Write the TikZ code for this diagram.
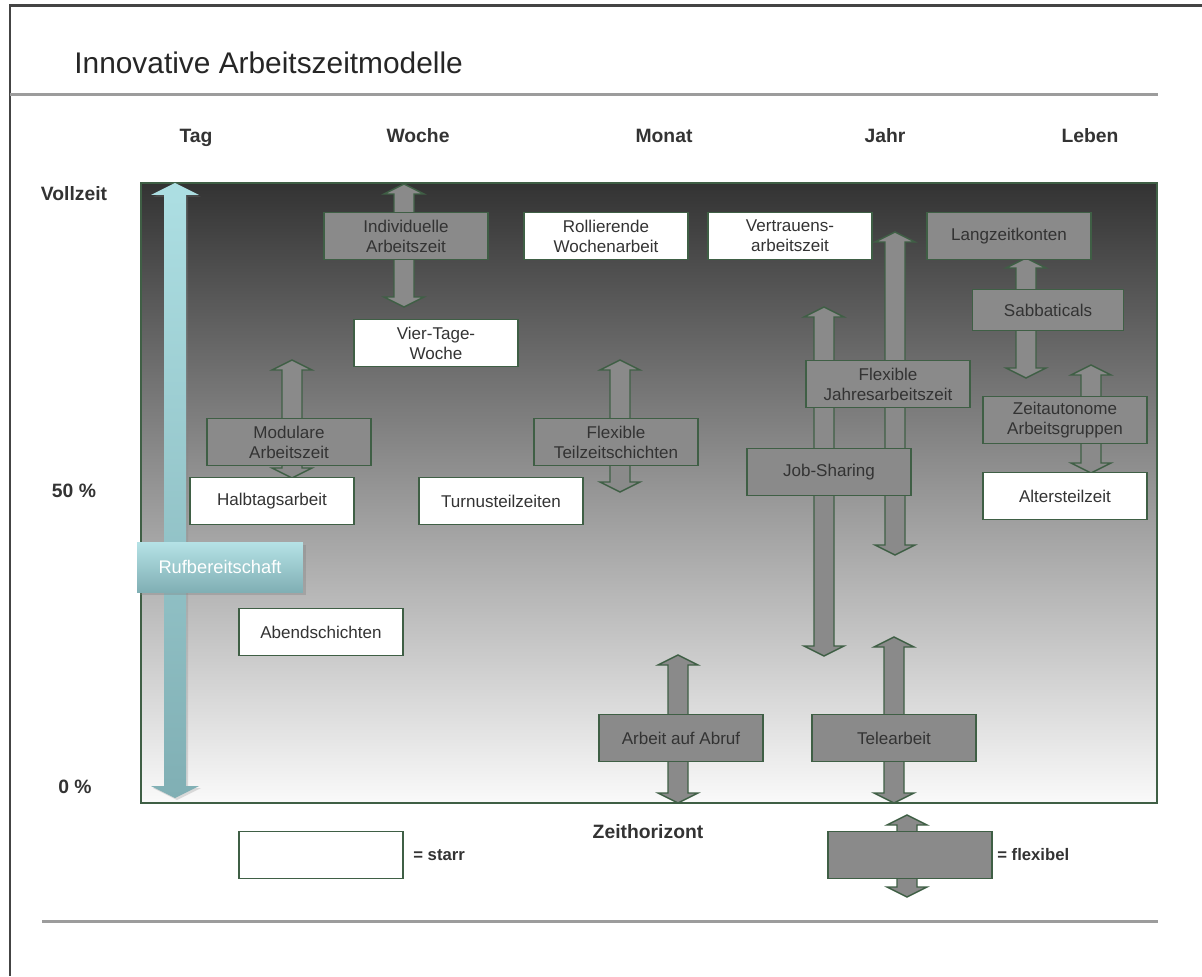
\documentclass[tikz,border=0pt]{standalone}
\usepackage{fontspec}
\setmainfont{Liberation Sans}
\usepackage{tikz}
\usetikzlibrary{shadows}
\definecolor{rand}{HTML}{3F5F45}
\definecolor{flexgrau}{HTML}{8A8A8A}
\definecolor{schrift}{HTML}{333333}
\definecolor{linie}{HTML}{9C9C9C}
\definecolor{rahmen}{HTML}{444444}
\definecolor{dunkel}{HTML}{333333}
\definecolor{hell}{HTML}{FAFAFA}
\definecolor{cyanhell}{HTML}{ADDFE3}
\definecolor{cyandunkel}{HTML}{80AFB4}

\tikzset{
  pfeil/.style={draw=rand, fill=flexgrau, line width=0.8pt},
  starr/.style={draw=rand, fill=white, line width=1pt, minimum width=3.28cm, minimum height=0.94cm,
    inner sep=0pt, align=center, text=schrift, font=\fontsize{9.7}{11.4}\selectfont},
  flex/.style={starr, fill=flexgrau},
  kopf/.style={anchor=base, font=\bfseries\fontsize{11}{13}\selectfont, text=schrift},
}

% double block arrow: x, top tip, bottom tip
\newcommand{\flexpfeil}[3]{%
  \draw[pfeil] (#1,#2) -- (#1+20,#2+10) -- (#1+10,#2+10) -- (#1+10,#3-10) -- (#1+20,#3-10)
    -- (#1,#3) -- (#1-20,#3-10) -- (#1-10,#3-10) -- (#1-10,#2+10) -- (#1-20,#2+10) -- cycle;}

\begin{document}
\begin{tikzpicture}[x=0.02cm, y=-0.02cm]
  \useasboundingbox (0,0) rectangle (1202,976);

  % frame and rules
  \draw[rahmen, line width=0.06cm] (1202,6) -- (10,6) -- (10,976);
  \draw[linie, line width=0.06cm] (10,95) -- (1158,95);
  \draw[linie, line width=0.06cm] (42,921) -- (1158,921);
  \node[anchor=base west, inner sep=0pt, text=black!85, font=\fontsize{17}{20}\selectfont] (titel) at (74,74) {Innovative Arbeitszeitmodelle};

  % column and row labels
  \node[kopf] (tag) at (196,143) {Tag};
  \node[kopf] (woche) at (418,143) {Woche};
  \node[kopf] (monat) at (664,143) {Monat};
  \node[kopf] (jahr) at (885,143) {Jahr};
  \node[kopf] (leben) at (1090,143) {Leben};
  \node[kopf] (vollzeit) at (74,201) {Vollzeit};
  \node[kopf] (halb) at (74,497) {50 \%};
  \node[kopf] (null) at (75,793) {0 \%};

  % plot area
  \shade[top color=dunkel, bottom color=hell] (141,183) rectangle (1157,803);
  \draw[rand, line width=0.8pt] (141,183) rectangle (1157,803);

  % Rufbereitschaft
  \shade[top color=cyanhell, bottom color=cyandunkel, drop shadow={opacity=0.25, shadow xshift=0.04cm, shadow yshift=-0.04cm}]
    (175,183) -- (199,195) -- (186,195) -- (186,786) -- (199,786) -- (175,798) -- (151,786) -- (164,786)
    -- (164,195) -- (151,195) -- cycle;

  % arrows
  \flexpfeil{404}{184}{307}
  \flexpfeil{292}{360}{478}
  \flexpfeil{620}{360}{492}
  \flexpfeil{824}{307}{656}
  \flexpfeil{895}{232}{555}
  \flexpfeil{1026}{258}{378}
  \flexpfeil{1091}{365}{473}
  \flexpfeil{678}{655}{803}
  \flexpfeil{894}{637}{803}
  \flexpfeil{907}{815}{897}

  % boxes
  \node[flex] (indiv) at (406,236) {Individuelle\\Arbeitszeit};
  \node[starr] (roll) at (606,236) {Rollierende\\Wochenarbeit};
  \node[starr] (vertr) at (790,236) {Vertrauens-\\arbeitszeit};
  \node[flex] (langz) at (1009,236) {Langzeitkonten};
  \node[starr] (viert) at (436,343) {Vier-Tage-\\Woche};
  \node[flex, minimum width=3.02cm, minimum height=0.82cm] (sabb) at (1048,310) {Sabbaticals};
  \node[flex] (flexjahr) at (888,384) {Flexible\\Jahresarbeitszeit};
  \node[flex] (modul) at (289,442) {Modulare\\Arbeitszeit};
  \node[flex] (flexteil) at (616,442) {Flexible\\Teilzeitschichten};
  \node[flex] (zeitauto) at (1065,420) {Zeitautonome\\Arbeitsgruppen};
  \node[flex] (jobsh) at (829,472) {Job-Sharing};
  \node[starr] (halbt) at (272,501) {Halbtagsarbeit};
  \node[starr] (turnus) at (501,501) {Turnusteilzeiten};
  \node[starr] (alters) at (1065,496) {Altersteilzeit};
  \node[starr] (abend) at (321,632) {Abendschichten};
  \node[flex] (abruf) at (681,738) {Arbeit auf Abruf};
  \node[flex] (tele) at (894,738) {Telearbeit};
  \node[starr, draw=none, top color=cyanhell!90!white, bottom color=cyandunkel, text=white, minimum width=3.32cm, minimum height=1cm,
    font=\fontsize{10.4}{12}\selectfont, drop shadow={opacity=0.35, shadow xshift=0.06cm, shadow yshift=-0.06cm}] (ruf) at (220,567) {Rufbereitschaft};

  % legend
  \node[kopf, anchor=center] (horizont) at (648,832) {Zeithorizont};
  \node[starr] (legstarr) at (321,855) {};
  \node[flex] (legflex) at (910,855) {};
  \node[kopf, anchor=west, inner sep=0pt, font=\bfseries\fontsize{9.5}{11}\selectfont] (starrtext) at (413,855) {= starr};
  \node[kopf, anchor=west, inner sep=0pt, font=\bfseries\fontsize{9.5}{11}\selectfont] (flextext) at (997,855) {= flexibel};
\end{tikzpicture}
\end{document}
